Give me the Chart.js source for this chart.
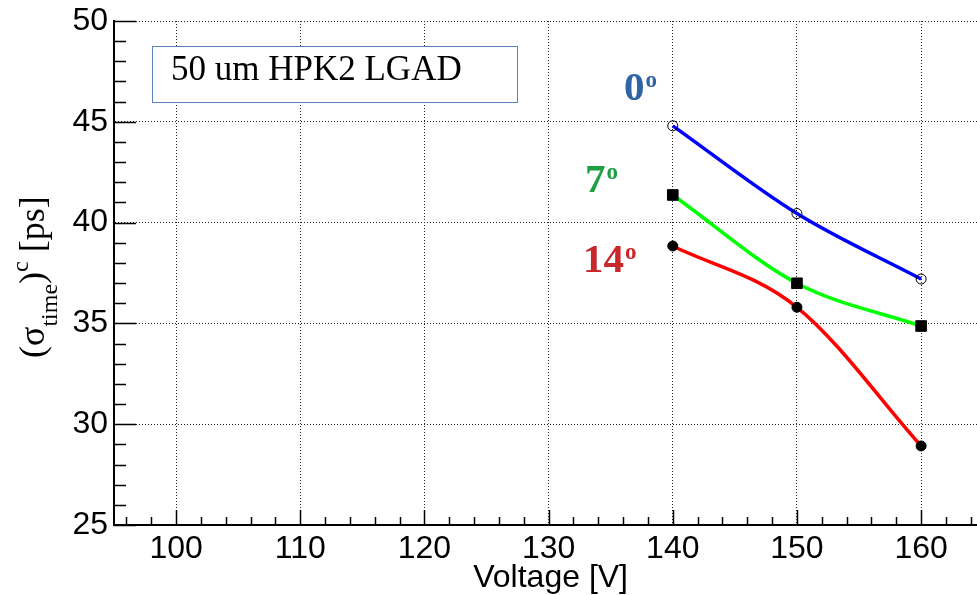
<!DOCTYPE html>
<html>
<head>
<meta charset="utf-8">
<script src="https://cdn.jsdelivr.net/npm/chart.js@4.4.0/dist/chart.umd.min.js"></script>
<style>
html,body{margin:0;padding:0;background:#fff;overflow:hidden}
</style>
</head>
<body>
<canvas id="myChart" width="977" height="595"></canvas>
<script>
// bias voltage [V] and time resolution [ps] per incidence angle
const voltages=[140,150,160]
const sigma0=[44.8,40.45,37.2]
const sigma7=[41.37,36.99,34.87]
const sigma14=[38.84,35.8,28.92]
const xTicks=[100,110,120,130,140,150,160]
const yTicks=[25,30,35,40,45,50]
const angles=['0','7','14']
const sensorLabel='50 um HPK2 LGAD'

function toXY(ys){
    return voltages.map((v,i)=>({x:v,y:ys[i]}))
}

// ROOT style ticks pointing into the frame
const innerTicks={
    id:'innerTicks',
    beforeDatasetsDraw(chart){
        const ctx=chart.ctx
        const xs=chart.scales.x, ys=chart.scales.y
        const a=chart.chartArea
        ctx.save()
        ctx.strokeStyle='#000'
        ctx.lineWidth=1.5
        ctx.beginPath()
        for(let v=96;v<=164;v+=2){
            const px=Math.round(xs.getPixelForValue(v))+0.5
            const len=(v%10==0)?15:8
            ctx.moveTo(px,a.bottom)
            ctx.lineTo(px,a.bottom-len)
        }
        for(let v=25;v<=50;v++){
            const py=Math.round(ys.getPixelForValue(v))+0.5
            const len=(v%5==0)?22:12
            ctx.moveTo(a.left,py)
            ctx.lineTo(a.left+len,py)
        }
        ctx.stroke()
        ctx.restore()
    }
}

const labels={
    id:'labels',
    afterDraw(chart){
        const ctx=chart.ctx
        ctx.save()
        // sensor box
        ctx.fillStyle='#fff'
        ctx.fillRect(152,46,365,56)
        ctx.strokeStyle='#5b82c0'
        ctx.lineWidth=1
        ctx.strokeRect(152.5,46.5,365,56)
        ctx.fillStyle='#000'
        ctx.font='35px "Liberation Serif"'
        ctx.textBaseline='alphabetic'
        ctx.textAlign='left'
        ctx.fillText(sensorLabel,171,80)

        // angle tags
        const tags=[
            {t:angles[0],x:624,y:100,c:'#2f64a5'},
            {t:angles[1],x:585,y:192,c:'#1da043'},
            {t:angles[2],x:583,y:272,c:'#c8282b'}
        ]
        tags.forEach(g=>{
            ctx.fillStyle=g.c
            ctx.font='bold 41px "Liberation Serif"'
            ctx.fillText(g.t,g.x,g.y)
            const w=ctx.measureText(g.t).width
            ctx.font='bold 23px "Liberation Serif"'
            ctx.fillText('o',g.x+w+1,g.y-13)
        })

        // x title
        ctx.fillStyle='#000'
        ctx.font='32px "Liberation Sans"'
        ctx.textAlign='right'
        ctx.fillText('Voltage [V]',628,587)

        // y title
        ctx.translate(44,358)
        ctx.rotate(-Math.PI/2)
        ctx.textAlign='left'
        let x=0
        const part=(s,size,dy)=>{
            ctx.font=size+'px "Liberation Serif"'
            ctx.fillText(s,x,dy)
            x+=ctx.measureText(s).width
        }
        part('(\u03c3',36,0)
        part('time',24,13)
        part(')',36,0)
        part('c',24,-16)
        part(' [ps]',36,0)
        ctx.restore()
    }
}

const lineStyle={
    showLine:true,
    fill:false,
    borderWidth:3.5,
    cubicInterpolationMode:'monotone',
    pointBorderColor:'#000',
    pointBorderWidth:1
}

const ctx=document.getElementById('myChart').getContext('2d')
const myChart=new Chart(ctx,{
    type:'scatter',
    data:{
        datasets:[
            {...lineStyle,label:'0',data:toXY(sigma0),borderColor:'#0000ff',
                pointStyle:'circle',pointRadius:5,pointBackgroundColor:'rgba(0,0,0,0)'},
            {...lineStyle,label:'7',data:toXY(sigma7),borderColor:'#00ff00',
                pointStyle:'rect',pointRadius:7.5,pointBackgroundColor:'#000'},
            {...lineStyle,label:'14',data:toXY(sigma14),borderColor:'#ff0000',
                pointStyle:'circle',pointRadius:5,pointBackgroundColor:'#000'}
        ]
    },
    options:{
        responsive:false,
        animation:false,
        layout:{autoPadding:false,padding:{top:21,left:0,right:0,bottom:0}},
        plugins:{legend:{display:false},tooltip:{enabled:false}},
        scales:{
            x:{
                type:'linear',
                min:95,max:164.5,
                afterBuildTicks:s=>{s.ticks=xTicks.map(v=>({value:v}))},
                afterFit:s=>{s.height=70;s.paddingLeft=0;s.paddingRight=0},
                grid:{color:'#222',lineWidth:1,drawTicks:false,tickLength:0},
                border:{color:'#000',width:2,dash:[1,2]},
                ticks:{color:'#000',padding:5,maxRotation:0,
                    font:{family:'Liberation Sans',size:32}}
            },
            y:{
                min:25,max:50,
                afterBuildTicks:s=>{s.ticks=yTicks.map(v=>({value:v}))},
                afterFit:s=>{s.width=114;s.paddingTop=0;s.paddingBottom=0},
                grid:{color:'#222',lineWidth:1,drawTicks:false,tickLength:0},
                border:{color:'#000',width:2,dash:[1,2]},
                ticks:{color:'#000',padding:6,
                    font:{family:'Liberation Sans',size:32}}
            }
        }
    },
    plugins:[innerTicks,labels]
})
</script>
</body>
</html>
